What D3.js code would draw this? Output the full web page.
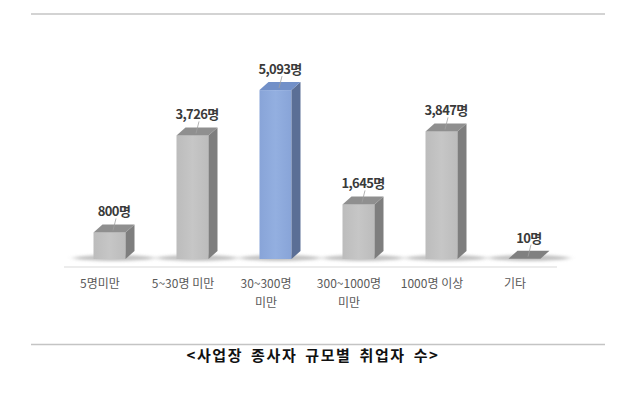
<!DOCTYPE html>
<html>
<head>
<meta charset="utf-8">
<script src="https://cdnjs.cloudflare.com/ajax/libs/d3/7.8.5/d3.min.js"></script>
<style>
  body { margin: 0; background: #fff; }
  svg { display: block; }
</style>
</head>
<body>
<svg id="chart"></svg>
<script>
var width = 640;
var height = 398;

// data
var categories = ["5명미만", "5~30명 미만", "30~300명 미만", "300~1000명 미만", "1000명 이상", "기타"];
var labelLines = [["5명미만"], ["5~30명 미만"], ["30~300명", "미만"], ["300~1000명", "미만"], ["1000명 이상"], ["기타"]];
var values = [800, 3726, 5093, 1645, 3847, 10];
var valueLabels = ["800명", "3,726명", "5,093명", "1,645명", "3,847명", "10명"];
var highlight = "30~300명 미만";
var caption = "<사업장 종사자 규모별 취업자 수>";

var svg = d3.select("#chart")
  .attr("width", width)
  .attr("height", height);

var baseY = 259;
var x = d3.scaleBand().domain(categories).range([58.5, 556.5]).padding(0);
var y = d3.scaleLinear().domain([0, 6000]).range([baseY, 60]);

var barW = 32;   // front face width
var dx = 9;      // depth to the right
var dy = 8;      // depth upwards
var shiftX = 9.5; // bars sit a bit right of their label

var defs = svg.append("defs");
defs.append("filter").attr("id", "blur")
  .attr("x", "-50%").attr("y", "-200%").attr("width", "200%").attr("height", "500%")
  .append("feGaussianBlur").attr("stdDeviation", "3.5 1.6");

function grad(id, c1, c2) {
  var g = defs.append("linearGradient").attr("id", id)
    .attr("x1", "0").attr("x2", "1").attr("y1", "0").attr("y2", "0");
  g.append("stop").attr("offset", "0").attr("stop-color", c1);
  g.append("stop").attr("offset", "0.5").attr("stop-color", c2);
  g.append("stop").attr("offset", "1").attr("stop-color", c1);
}
grad("grayFront", "#bcbcbc", "#c6c6c6");
grad("blueFront", "#88a4d8", "#93afe0");

// rules
svg.append("line")
  .attr("x1", 31).attr("x2", 605).attr("y1", 14).attr("y2", 14)
  .attr("stroke", "#c4c4c4").attr("stroke-width", 1.5);
svg.append("line")
  .attr("x1", 31).attr("x2", 605).attr("y1", 344.5).attr("y2", 344.5)
  .attr("stroke", "#c4c4c4").attr("stroke-width", 1.5);

// floor line
svg.append("line")
  .attr("x1", 64).attr("x2", 557).attr("y1", 267).attr("y2", 267)
  .attr("stroke", "#d9d9d9").attr("stroke-width", 1);

var bars = svg.append("g").selectAll("g")
  .data(categories)
  .join("g")
  .attr("transform", function (d) { return "translate(" + (x(d) + x.bandwidth() / 2 - barW / 2 + shiftX) + ",0)"; });

// floor shadows
bars.append("ellipse")
  .attr("cx", (barW + dx) / 2)
  .attr("cy", baseY - 1)
  .attr("rx", barW + 8)
  .attr("ry", 3)
  .attr("fill", "#999")
  .attr("opacity", 0.6)
  .attr("filter", "url(#blur)");

bars.each(function (d, i) {
  var g = d3.select(this);
  var top = y(values[i]);
  var hi = d === highlight;
  var front = hi ? "url(#blueFront)" : "url(#grayFront)";
  var side = hi ? "#5b6f96" : "#7e7e7e";
  var topc = hi ? "#7290c8" : "#8f8f8f";
  var h = baseY - top;

  if (h > 2) {
    g.append("rect")
      .attr("x", 0).attr("y", top)
      .attr("width", barW).attr("height", h)
      .attr("fill", front);
    g.append("path")
      .attr("d", "M" + barW + "," + top + "L" + (barW + dx) + "," + (top - dy) +
        "L" + (barW + dx) + "," + (baseY - dy) + "L" + barW + "," + baseY + "Z")
      .attr("fill", side);
  }
  g.append("path")
    .attr("d", "M0," + top + "L" + barW + "," + top + "L" + (barW + dx) + "," + (top - dy) +
      "L" + dx + "," + (top - dy) + "Z")
    .attr("fill", h > 2 ? topc : "#808080");

  // leader line from label to top
  g.append("line")
    .attr("x1", (barW + dx) / 2 + 2).attr("x2", (barW + dx) / 2 - 1)
    .attr("y1", top - dy - 6).attr("y2", top - 2)
    .attr("stroke", "#a0a0a0").attr("stroke-width", 0.8);

  g.append("text")
    .attr("x", (barW + dx) / 2)
    .attr("y", top - dy - 8)
    .attr("text-anchor", "middle")
    .attr("font-family", "'Noto Sans CJK KR', sans-serif")
    .attr("font-weight", "bold")
    .attr("font-size", 13)
    .attr("letter-spacing", -0.6)
    .attr("fill", "#3a3a3a")
    .text(valueLabels[i]);
});

// category labels
var labels = svg.append("g").selectAll("text")
  .data(categories)
  .join("text")
  .attr("x", function (d) { return x(d) + x.bandwidth() / 2; })
  .attr("y", 288)
  .attr("text-anchor", "middle")
  .attr("font-family", "'Noto Sans CJK KR', sans-serif")
  .attr("font-size", 12)
  .attr("fill", "#595959");
labels.each(function (d, i) {
  var t = d3.select(this);
  labelLines[i].forEach(function (line, k) {
    t.append("tspan")
      .attr("x", x(d) + x.bandwidth() / 2)
      .attr("dy", k === 0 ? 0 : 19)
      .text(line);
  });
});

// caption
svg.append("text")
  .attr("x", 313)
  .attr("y", 361)
  .attr("text-anchor", "middle")
  .attr("font-family", "'Noto Sans CJK KR', sans-serif")
  .attr("font-weight", "bold")
  .attr("font-size", 15)
  .attr("letter-spacing", 1.6)
  .attr("word-spacing", 3)
  .attr("fill", "#111")
  .text(caption);
</script>
</body>
</html>
